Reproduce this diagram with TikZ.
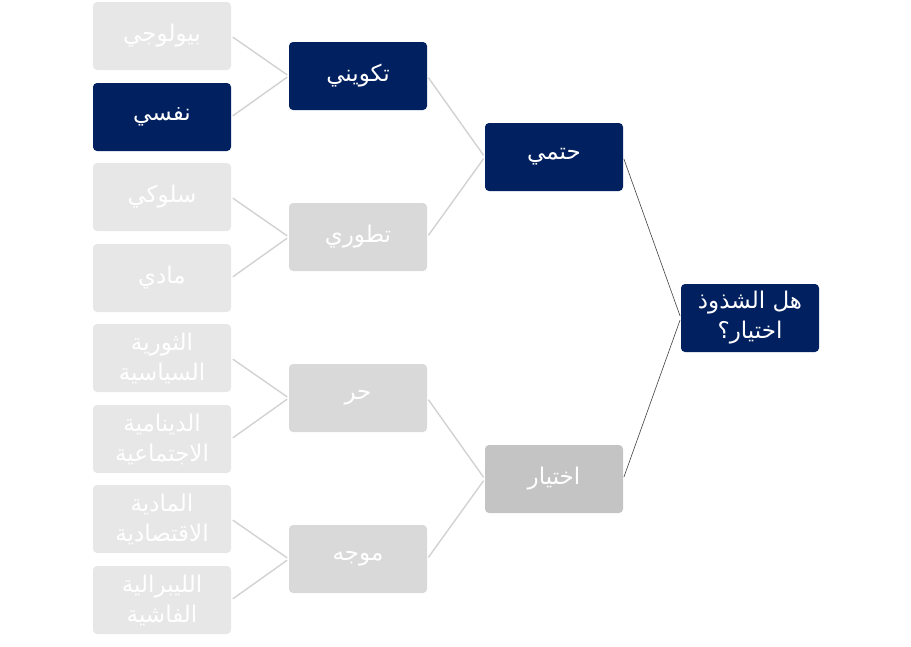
\documentclass[tikz,border=0pt]{standalone}
\usepackage{fontspec}
\TeXXeTstate=1
\newfontfamily\arabicfont[Script=Arabic]{DejaVu Sans}
\newcommand\artext[1]{\beginR #1\endR}
\definecolor{navy}{RGB}{0,32,96}
\definecolor{leafgray}{RGB}{231,231,231}
\definecolor{midgray}{RGB}{217,217,217}
\definecolor{deepgray}{RGB}{196,196,196}
\definecolor{linegray}{RGB}{210,210,210}
\definecolor{darkline}{RGB}{64,64,64}
\tikzset{
  box/.style={rounded corners=4pt, minimum width=138pt, minimum height=68pt,
    inner sep=0pt, text=white, align=center,
    font=\arabicfont\fontsize{23}{30}\selectfont},
  leafbox/.style={box, fill=leafgray},
  midbox/.style={box, fill=midgray},
  deepbox/.style={box, fill=deepgray},
  navybox/.style={box, fill=navy},
  lightlink/.style={draw=linegray, line width=1.4pt, shorten <=2pt, shorten >=2pt},
  darklink/.style={draw=darkline, line width=0.6pt, shorten <=2pt, shorten >=2pt}
}
\begin{document}
\begin{tikzpicture}[x=1pt,y=-1pt]
\useasboundingbox (0,0) rectangle (911,646);
% leaves
\node[leafbox] (l1) at (162,36) {\artext{بيولوجي}};
\node[navybox] (l2) at (162,117) {\artext{نفسي}};
\node[leafbox] (l3) at (162,197) {\artext{سلوكي}};
\node[leafbox] (l4) at (162,278) {\artext{مادي}};
\node[leafbox] (l5) at (162,358) {\artext{الثورية}\\\artext{السياسية}};
\node[leafbox] (l6) at (162,439) {\artext{الدينامية}\\\artext{الاجتماعية}};
\node[leafbox] (l7) at (162,519) {\artext{المادية}\\\artext{الاقتصادية}};
\node[leafbox] (l8) at (162,600) {\artext{الليبرالية}\\\artext{الفاشية}};
% second column
\node[navybox] (m1) at (358,76) {\artext{تكويني}};
\node[midbox] (m2) at (358,237) {\artext{تطوري}};
\node[midbox] (m3) at (358,398) {\artext{حر}};
\node[midbox] (m4) at (358,559) {\artext{موجه}};
% third column
\node[navybox] (t1) at (554,157) {\artext{حتمي}};
\node[deepbox] (t2) at (554,479) {\artext{اختيار}};
% root
\node[navybox] (r) at (750,318) {\artext{هل الشذوذ}\\\artext{اختيار؟}};
% links
\draw[lightlink] (l1.east) -- (m1.west);
\draw[lightlink] (l2.east) -- (m1.west);
\draw[lightlink] (l3.east) -- (m2.west);
\draw[lightlink] (l4.east) -- (m2.west);
\draw[lightlink] (l5.east) -- (m3.west);
\draw[lightlink] (l6.east) -- (m3.west);
\draw[lightlink] (l7.east) -- (m4.west);
\draw[lightlink] (l8.east) -- (m4.west);
\draw[lightlink] (m1.east) -- (t1.west);
\draw[lightlink] (m2.east) -- (t1.west);
\draw[lightlink] (m3.east) -- (t2.west);
\draw[lightlink] (m4.east) -- (t2.west);
\draw[darklink] (t1.east) -- (r.west);
\draw[darklink] (t2.east) -- (r.west);
\end{tikzpicture}
\end{document}
